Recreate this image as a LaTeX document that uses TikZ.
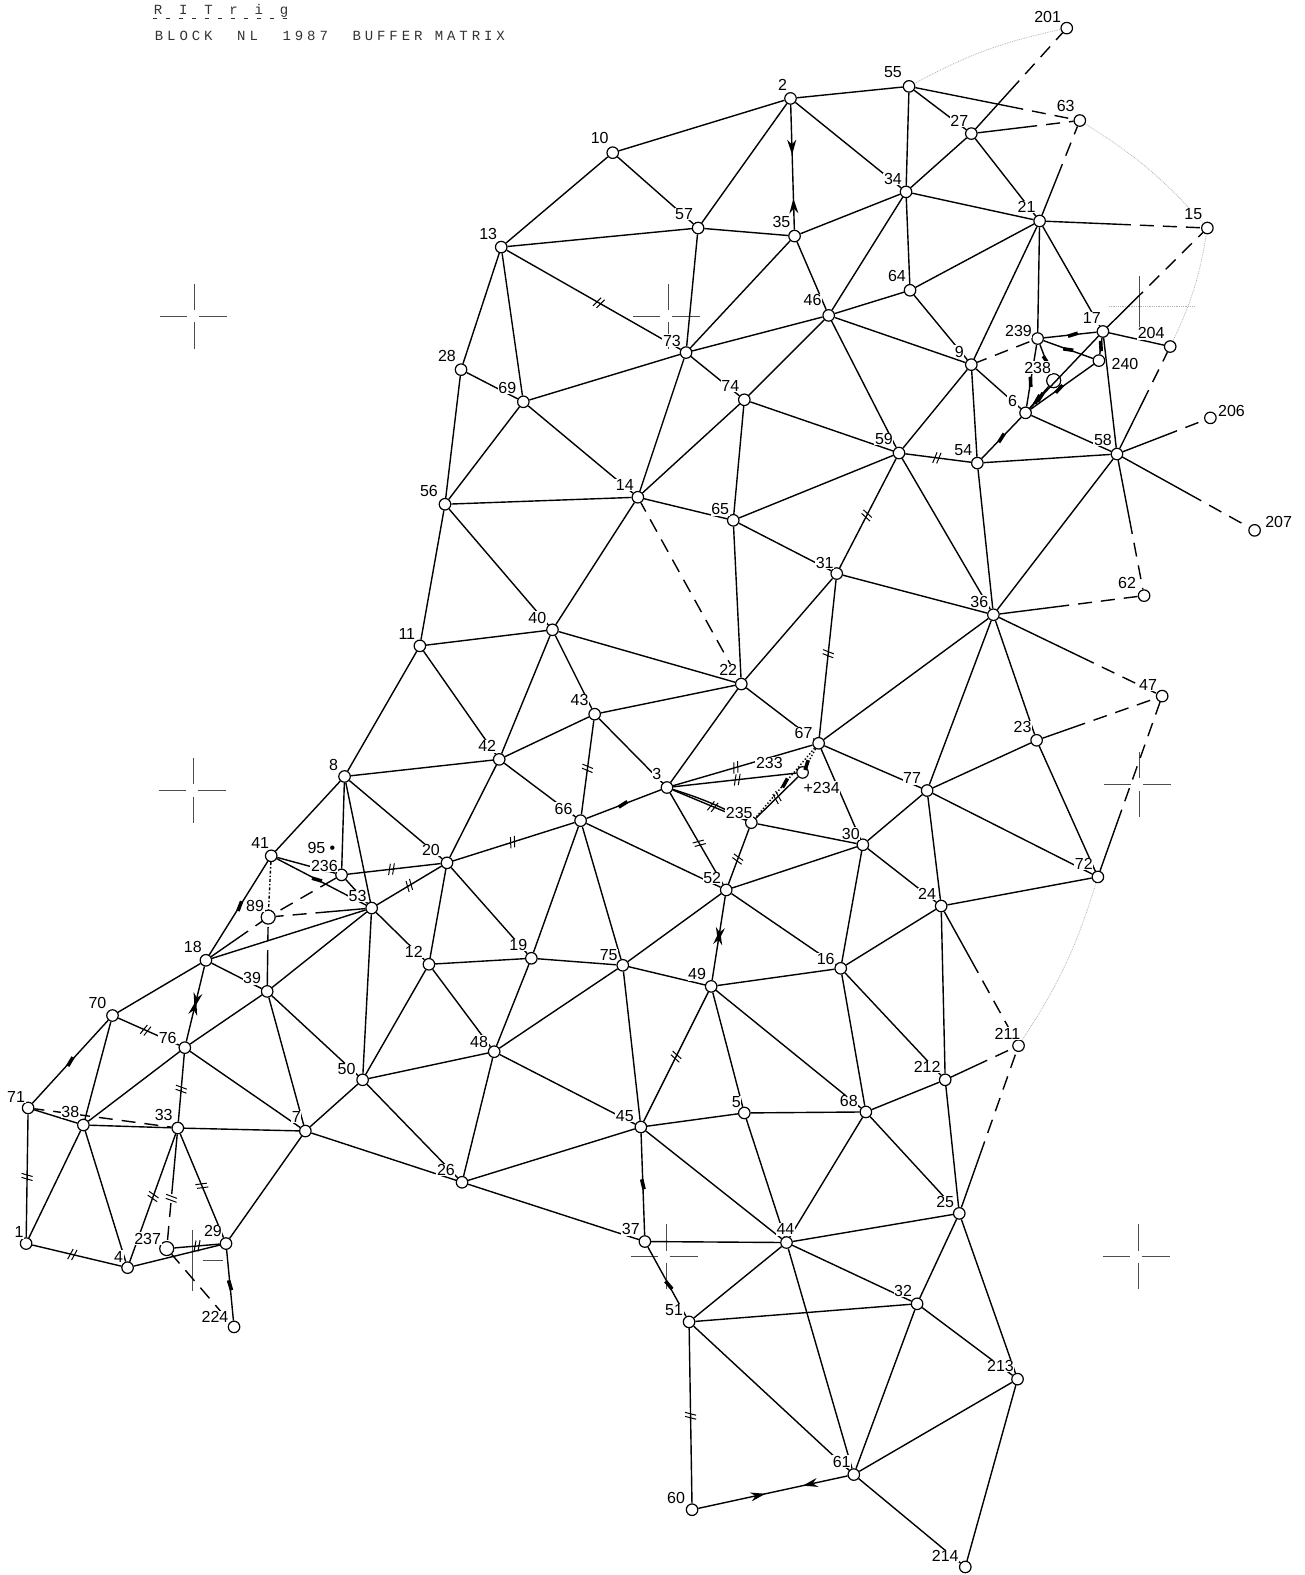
\documentclass[tikz,border=0pt]{standalone}
\usepackage{fontspec}
\setmainfont{Liberation Sans}
\setmonofont{Liberation Mono}
\usetikzlibrary{arrows.meta,decorations.markings}

\begin{document}
\begin{tikzpicture}[
  x=1.0046pt, y=-1.0046pt,
  station/.style={draw, circle, fill=white, inner sep=0pt, minimum size=11.5pt, line width=1.2pt},
  bigstation/.style={station, minimum size=14pt},
  num/.style={font=\fontsize{16}{16}\selectfont, inner sep=0.6pt, fill=white},
  edge/.style={line width=1.4pt},
  faint/.style={black!30, densely dotted, line width=0.8pt},
  crs/.style={black!70, line width=0.8pt},
  sd/.style={dash pattern=on #1 off 9pt on 14pt off 9pt on 14pt off 9pt on 14pt off 9pt on 14pt off 9pt on 14pt off 9pt on 14pt off 9pt on 14pt off 9pt on 14pt},
  tk/.style={postaction=decorate, decoration={markings, mark=at position #1 with
    {\draw[solid, line width=1pt] (-3.5,5.5)--(-0.5,-5.5) (0.5,5.5)--(3.5,-5.5);}}},
  thk/.style={postaction=decorate, decoration={markings, mark=at position #1 with
    {\draw[solid, line width=3.6pt] (-5,1)--(5,-1);}}},
  meet/.style 2 args={postaction=decorate, decoration={markings,
    mark=at position #1 with {\arrow{Stealth[length=15pt,width=9pt]}},
    mark=at position #2 with {\arrowreversed{Stealth[length=15pt,width=9pt]}}}}
]
\useasboundingbox (0,0) rectangle (1299,1568);

% title
\node[font=\ttfamily\fontsize{14}{14}\selectfont\addfontfeature{LetterSpace=28}, black!80, anchor=west, inner sep=0pt] (block) at (154,36) {BLOCK~~NL~~1987~~BUFFER~MATRIX};
\node[font=\ttfamily\fontsize{14}{14}\selectfont, black!80, anchor=west, inner sep=1pt] (trig) at (152,11) {R~~I~~T~~r~~i~~g};
\draw[black!80, dash pattern=on 4pt off 9pt, line width=1pt] (trig.south west)--(trig.south east);

% map crosses
\foreach \x/\y in {194/315,665/315,193/787,1134/781,663/1251,1133/1251}
  \draw[crs, shift={(\x,\y)}] (-35,0)--(-8,0) (4,0)--(32,0) (0,-32)--(0,-6) (0,6)--(0,32);
\draw[crs, shift={(1134,305)}] (0,-30)--(0,25);
\draw[faint, shift={(1134,305)}] (-30,0)--(55,0);
\draw[crs, shift={(192,1255)}] (0,-30)--(0,30) (10,0)--(30,0);

% stations
\foreach \n/\x/\y in {
  2/787/98, 55/905/86, 27/967/133, 63/1075/120, 201/1062/28, 10/610/152, 34/902/191, 21/1035/220,
  15/1202/227, 57/695/227, 35/791/235, 13/499/246, 64/906/289, 46/825/314, 17/1098/330, 239/1033/337,
  204/1165/345, 240/1094/359, 9/967/363, 73/683/351, 28/459/368, 69/521/400, 74/741/398, 6/1021/411,
  206/1205/416, 59/895/451, 54/973/461, 58/1112/452, 14/635/495, 56/443/502, 65/730/518, 207/1249/528,
  31/833/571, 62/1139/593, 36/989/612, 40/550/627, 11/418/643, 22/738/681, 47/1157/693, 43/592/711,
  67/815/740, 23/1032/737, 42/497/756, 8/343/773, 3/664/784, 233/799/769, 77/923/787, 235/748/819,
  66/578/817, 30/859/841, 41/270/852, 20/445/859, 236/340/871, 72/1093/873, 52/723/886, 53/370/904,
  24/937/902, 18/205/956, 12/427/960, 19/529/954, 75/620/961, 16/837/964, 39/266/987, 49/708/982,
  70/112/1011, 76/184/1043, 211/1014/1041, 48/492/1047, 50/361/1075, 212/941/1075, 71/28/1103, 38/83/1120,
  33/177/1123, 7/304/1126, 45/638/1122, 5/741/1108, 68/862/1107, 26/460/1177, 25/955/1208, 1/26/1238,
  4/127/1262, 29/225/1238, 37/642/1236, 44/783/1237, 224/233/1321, 32/913/1298, 51/686/1316, 213/1013/1373,
  61/850/1468, 60/689/1503, 214/961/1560}
  \node[station] (n\n) at (\x,\y) {};
\node[bigstation] (n238) at (1049,379) {};
\node[bigstation] (n89) at (267,913) {};
\node[bigstation] (n237) at (166,1243) {};

% plain lines
\foreach \a/\b in {
  2/55, 2/10, 2/34, 2/57, 55/27, 55/34, 27/34, 27/21, 10/13, 10/57, 34/35, 34/21, 34/46, 34/64,
  21/64, 21/9, 21/239, 21/17, 57/13, 57/35, 57/73, 35/46, 35/73, 13/28, 13/69, 64/46, 64/9, 46/73,
  46/9, 46/59, 46/74, 74/14, 73/69, 73/74, 73/14, 28/69, 28/56, 69/56, 69/14, 74/59, 74/65, 9/59,
  9/54, 9/6, 17/58, 17/204, 6/58, 54/58, 54/36, 58/36, 59/65, 59/36, 14/56, 14/65, 14/40, 56/11,
  56/40, 65/22, 65/31, 31/36, 31/22, 36/23, 36/67, 36/77, 40/11, 40/22, 40/43, 40/42, 11/42, 11/8,
  22/43, 22/67, 22/3, 43/42, 43/3, 67/30, 67/77, 23/77, 23/72, 77/72, 77/30, 77/24, 42/8, 42/20,
  42/66, 8/20, 8/53, 8/236, 8/41, 66/52, 66/19, 66/75, 235/30, 30/52, 30/24, 30/16, 20/12, 20/19,
  53/18, 53/39, 53/12, 53/50, 72/24, 52/16, 52/75, 24/16, 24/212, 18/39, 18/70, 12/19, 12/48, 12/50,
  19/75, 19/48, 75/49, 75/48, 75/45, 16/49, 16/68, 16/212, 39/76, 39/50, 39/7, 49/68, 49/5, 70/38,
  76/38, 76/7, 48/50, 48/45, 48/26, 50/7, 50/26, 212/68, 212/25, 71/38, 38/33, 38/1, 38/4, 33/7,
  7/26, 7/29, 45/5, 45/26, 45/44, 5/68, 5/44, 68/44, 68/25, 26/37, 25/44, 25/32, 25/213, 4/29, 37/44,
  44/51, 44/32, 44/61, 32/51, 32/213, 32/61, 51/61, 213/61, 213/214, 61/214}
  \draw[edge] (n\a)--(n\b);

% lines with a double tick
\foreach \a/\b/\p in {
  13/73/.53, 59/54/.48, 59/31/.52, 31/67/.47, 43/66/.51, 3/67/.45, 3/233/.52, 3/235/.55, 3/52/.55,
  235/52/.55, 233/235/.5, 66/20/.51, 20/236/.53, 53/20/.5, 49/45/.5, 51/60/.5, 71/1/.51, 1/4/.45,
  33/4/.49, 33/29/.5, 76/33/.52, 70/76/.45, 237/29/.5}
  \draw[edge, tk=\p] (n\a)--(n\b);
\draw[edge] (n3) to[bend left=5] (n235);

% lines with a bold tick
\foreach \a/\b/\p in {
  66/3/.49, 41/18/.48, 70/71/.5, 239/17/.55, 239/240/.5, 239/238/.55, 17/240/.5, 238/6/.6, 240/6/.55,
  6/54/.5, 41/236/.8, 41/53/.45, 236/53/.6, 45/37/.5, 37/51/.55, 29/224/.5, 239/6/.6, 17/6/.85}
  \draw[edge, thk=\p] (n\a)--(n\b);

% lines with two heads
\draw[edge, meet={.4}{.75}] (n2)--(n35);
\draw[edge, meet={.45}{.7}] (n60)--(n61);
\draw[edge, meet={.55}{.45}] (n18)--(n76);
\draw[edge, meet={.6}{.45}] (n49)--(n52);

% solid lines running out into dashes
\foreach \a/\b/\s in {
  55/63/110, 27/63/60, 27/201/65, 21/63/55, 21/15/85, 17/15/50, 58/204/65, 58/206/58, 58/207/90,
  58/62/75, 36/62/70, 36/47/105, 23/47/45, 72/47/65, 24/211/70, 212/211/40, 25/211/70, 236/89/18,
  53/89/50, 39/89/35, 18/89/45, 14/22/10, 9/239/10, 71/33/10, 237/224/12}
  \draw[edge, sd=\s] (n\a)--(n\b);
\draw[edge, sd=60, tk=.6] (n33)--(n237);

% dash-dot and dotted
\draw[edge, dashdotted] (n41)--(n89);
\draw[edge, dotted, thk=.9] (n67)--(n233);
\draw[edge, dotted, thk=.5] (n67)--(n235);

% faint traces
\foreach \a/\b in {55/201, 63/15, 15/204, 72/211}
  \draw[faint] (n\a) to[bend left=8] (n\b);

% station numbers
\foreach \n/\lx/\ly in {
  2/779/85, 55/889/72, 27/955/120, 63/1061/106, 201/1043/17, 10/597/137, 34/889/178, 21/1022/206,
  15/1188/213, 57/681/213, 35/778/221, 13/486/233, 64/893/275, 46/809/299, 17/1087/317, 239/1014/330,
  204/1146/332, 240/1120/362, 238/1033/366, 9/955/350, 73/669/339, 28/445/354, 69/505/386, 74/727/384,
  6/1008/399, 206/1226/409, 59/880/437, 54/959/448, 58/1098/438, 14/622/483, 56/427/489, 65/717/507,
  207/1273/520, 31/821/560, 62/1122/580, 36/975/599, 40/535/615, 11/405/631, 22/725/667, 47/1143/682,
  43/577/697, 67/800/730, 23/1018/724, 42/485/743, 8/332/762, 3/654/771, 233/766/760, 77/908/775,
  235/736/809, 66/561/805, 30/847/830, 41/259/839, 20/429/846, 236/323/862, 72/1079/860, 52/709/874,
  53/356/892, 24/923/890, 89/254/902, 18/192/943, 12/412/948, 19/516/941, 75/606/951, 16/822/955,
  39/251/974, 49/694/970, 70/97/999, 76/167/1033, 211/1003/1029, 48/477/1037, 50/345/1064, 212/923/1062,
  71/16/1092, 38/70/1107, 33/163/1110, 7/295/1112, 45/622/1111, 5/733/1097, 68/845/1096, 26/444/1165,
  25/941/1197, 1/19/1227, 4/118/1251, 237/147/1233, 29/212/1226, 37/628/1224, 44/782/1224, 224/214/1311,
  32/899/1285, 51/671/1304, 213/996/1360, 61/838/1455, 60/673/1491, 214/941/1549}
  \node[num] (l\n) at (\lx,\ly) {\n};
\node[num] (l234) at (818,784) {+234};
\node[num] (l95) at (320,844) {95 \textbullet};
\end{tikzpicture}
\end{document}
